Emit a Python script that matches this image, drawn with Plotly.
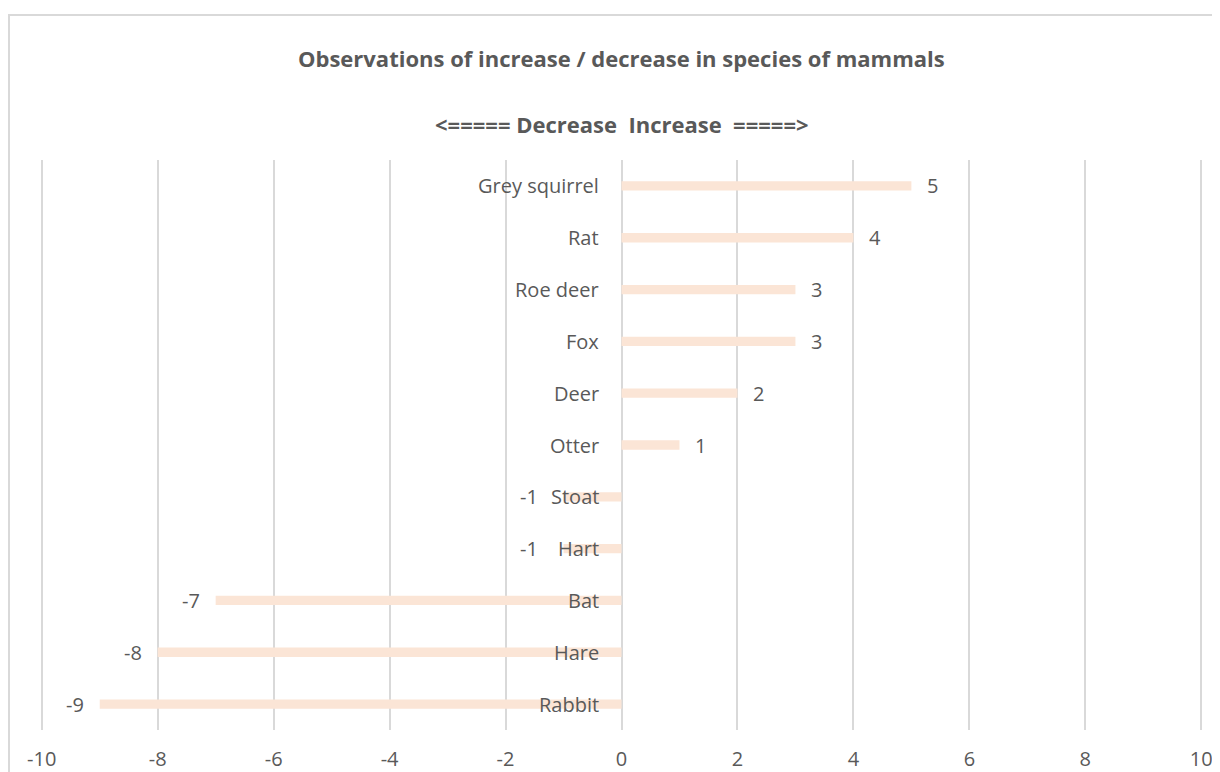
import plotly.graph_objects as go

# Datos
species = ['Grey squirrel', 'Rat', 'Roe deer', 'Fox', 'Deer', 'Otter',
           'Stoat', 'Hart', 'Bat', 'Hare', 'Rabbit']
change = [5, 4, 3, 3, 2, 1, -1, -1, -7, -8, -9]
x_ticks = [-10, -8, -6, -4, -2, 0, 2, 4, 6, 8, 10]

grey = '#595959'
font_name = 'Open Sans'
fsize = 20

fig = go.Figure()
fig.add_trace(go.Bar(
    x=change, y=species, orientation='h', width=0.18,
    marker=dict(color='#FBE5D6', line=dict(width=0)),
    hoverinfo='x+y'
))

# etiquetas de especie a la izquierda del cero
for s in species:
    fig.add_annotation(x=0, y=s, xref='x', yref='y', text=s, showarrow=False,
                       xanchor='right', xshift=-21,
                       font=dict(family=font_name, size=fsize, color=grey))

# valores al final de cada barra
for s, v in zip(species, change):
    if v > 0:
        shift = 14
    else:
        shift = -24 if v > -2 else -14
    fig.add_annotation(x=v, y=s, xref='x', yref='y', text=str(v), showarrow=False,
                       xanchor='left' if v > 0 else 'right', xshift=shift,
                       font=dict(family=font_name, size=fsize, color=grey))

# títulos
fig.add_annotation(x=0.5, y=1.179, xref='paper', yref='paper', yanchor='middle',
                   text='<b>Observations of increase / decrease in species of mammals</b>',
                   showarrow=False, font=dict(family=font_name, size=22, color=grey))
fig.add_annotation(x=0.5, y=1.063, xref='paper', yref='paper', yanchor='middle',
                   text='<b><===== Decrease  Increase  =====></b>',
                   showarrow=False, font=dict(family=font_name, size=22, color=grey))

# borde del gráfico
fig.add_shape(type='rect', xref='paper', yref='paper',
              x0=(1 - 32) / 1163, x1=1.2, y0=-0.3, y1=(722 - 7) / 570,
              line=dict(color='#D9D9D9', width=2), fillcolor='rgba(0,0,0,0)', layer='below')

fig.update_layout(
    width=1212, height=764,
    margin=dict(l=32, r=17, t=152, b=42),
    plot_bgcolor='white', paper_bgcolor='white',
    showlegend=False,
    font=dict(family=font_name, size=fsize, color=grey),
)
fig.update_xaxes(range=[-10.03, 10.03], tickvals=x_ticks, ticktext=[str(t) for t in x_ticks],
                 showgrid=True, gridcolor='#D9D9D9', gridwidth=2, automargin=False,
                 zeroline=True, zerolinecolor='#D9D9D9', zerolinewidth=2, showline=False,
                 ticks='', ticklabelstandoff=15, tickfont=dict(family=font_name, size=fsize, color=grey))
fig.update_yaxes(categoryorder='array', categoryarray=species, autorange='reversed', automargin=False,
                 showticklabels=False, showgrid=False, zeroline=False, showline=False)

fig.write_html('out.html')
